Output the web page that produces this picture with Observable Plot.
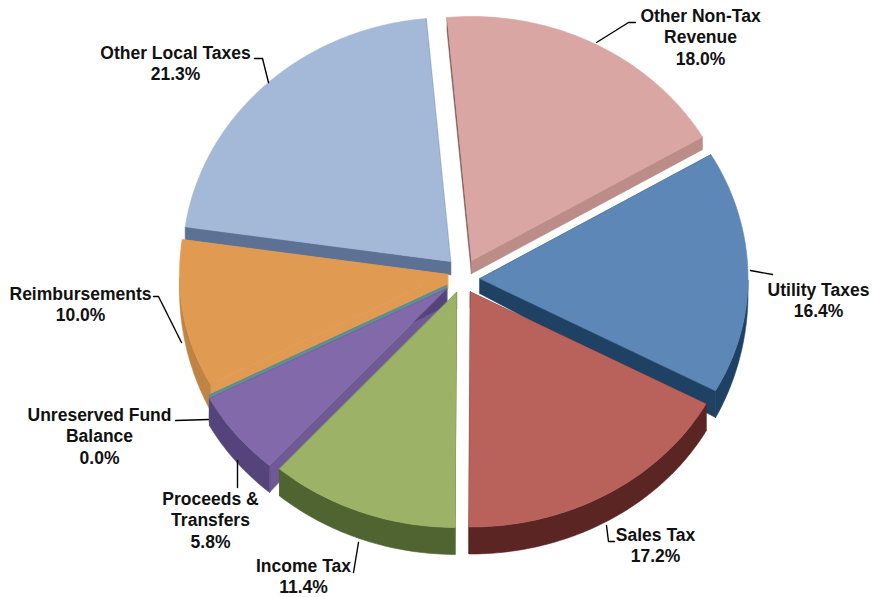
<!DOCTYPE html>
<html>
<head>
<meta charset="utf-8">
<script src="https://cdn.jsdelivr.net/npm/d3@7"></script>
<script src="https://cdn.jsdelivr.net/npm/@observablehq/plot@0.6"></script>
<style>
  html, body { margin: 0; padding: 0; background: #fff; }
  svg { display: block; }
</style>
</head>
<body>
<div id="chart"></div>
<script>
// Revenue shares, clockwise from the right-hand side of the pie
const categories = ["Utility Taxes", "Sales Tax", "Income Tax", "Proceeds & Transfers", "Unreserved Fund Balance", "Reimbursements", "Other Local Taxes", "Other Non-Tax Revenue"];
const shares = [16.4, 17.2, 11.4, 5.8, 0.0, 10.0, 21.3, 18.0];
const labelLines = [["Utility Taxes"], ["Sales Tax"], ["Income Tax"], ["Proceeds &", "Transfers"], ["Unreserved Fund", "Balance"], ["Reimbursements"], ["Other Local Taxes"], ["Other Non-Tax", "Revenue"]];

// How far each slice is pulled away from the pie centre
const pullX = [18.5, 9, -5, -15, -15, -14, -11, 10];
const pullY = [0, 13.5, 14, 10.5, 7, -4, -17, -18];

// Slice colours: top face, outer wall, and the two cut walls (leading and trailing edge)
const topColors = ["#5c87b7", "#b9625c", "#9cb267", "#8269a9", "#5f8f90", "#e09a52", "#a4b8d8", "#d9a6a3"];
const wallColors = ["#1f4163", "#5a2522", "#4f6431", "#55437c", "#5f8f90", "#bf8443", "#5d7195", "#bc8c88"];
const leadCutColors = ["#1f4163", "#5a2522", "#4f6431", "#6f5a96", "#5f8f90", "#e09a52", "#5d7195", "#7d5754"];
const trailCutColors = ["#1f4163", "#5a2522", "#4f6431", "#55437c", "#5f8f90", "#e09a52", "#5d7195", "#bc8c88"];

// Where each label sits relative to the pie centre, with its leader line
const labelPos = [[357, 21], [194, 266], [-158, 297], [-251, 241], [-362, 157], [-381, 25], [-286, -216], [239, -242]];
const leaders = [
  [[289, -8], [311, -4]],
  [[145, 247], [147, 263], [153, 263]],
  [[-103, 264], [-108, 294]],
  [[-224, 182], [-224, 209]],
  [[-253, 141], [-286, 142]],
  [[-280, 64], [-303, 18], [-308, 18]],
  [[-193, -196], [-199, -220], [-207, -220]],
  [[135, -236], [167, -256], [174, -256]]
];

const width = 872, height = 597;
const cx = 461, cy = 278;
const rx = 268, ryBack = 244, ryFront = 235;
const deg = Math.PI / 180;
const start = 59.5 * deg;

const arcs = d3.pie().sort(null).startAngle(start).endAngle(start + 2 * Math.PI)(shares);
const rim = (a) => [rx * Math.sin(a), -(Math.cos(a) > 0 ? ryBack : ryFront) * Math.cos(a)];

// Walls are shallower towards the back of the pie
const wallDepth = (y) => 13 + 14 * Math.max(0, Math.min(1, (y + 20) / 130));
const drop = ([x, y]) => [x, y + wallDepth(y)];

const faces = [];
const addFace = (key, color, points) => {
  for (const [x, y] of points) faces.push({key, x, y, color});
};

// Painted back to front so nearer slices cover the walls of farther ones
const paintOrder = [7, 6, 0, 5, 4, 3, 1, 2];
for (const i of paintOrder) {
  const arc = arcs[i];
  const apex = [pullX[i], pullY[i]];
  const steps = Math.max(1, Math.ceil((arc.endAngle - arc.startAngle) / deg));
  const angles = d3.range(steps + 1).map((t) => arc.startAngle + (arc.endAngle - arc.startAngle) * t / steps);
  const edge = angles.map((a) => {
    const [px, py] = rim(a);
    return [apex[0] + px, apex[1] + py];
  });
  const first = edge[0], last = edge[edge.length - 1];
  addFace(`${i}-lead`, leadCutColors[i], [apex, first, drop(first), drop(apex)]);
  addFace(`${i}-trail`, trailCutColors[i], [apex, last, drop(last), drop(apex)]);
  // Only the part of the rim facing the viewer shows an outer wall
  const front = edge.filter((_, j) => Math.cos(angles[j]) < 0);
  if (front.length > 1) addFace(`${i}-outer`, wallColors[i], [...front, ...front.map(drop).reverse()]);
  addFace(`${i}-top`, topColors[i], [apex, ...edge]);
}

const labels = categories.map((c, i) => ({
  x: labelPos[i][0],
  y: labelPos[i][1],
  text: [...labelLines[i], shares[i].toFixed(1) + "%"].join("\n")
}));
const leaderPoints = leaders.flatMap((pts, i) => pts.map(([x, y]) => ({i, x, y})));

const chart = Plot.plot({
  width, height, margin: 0,
  style: {background: "#fff", fontFamily: "'Liberation Sans', Arial, sans-serif"},
  x: {domain: [-cx, width - cx], range: [0, width], axis: null},
  y: {domain: [-cy, height - cy], range: [0, height], axis: null},
  color: {type: "identity"},
  marks: [
    Plot.line(faces, {x: "x", y: "y", z: "key", fill: "color", stroke: "color", strokeWidth: 0.6, curve: "linear-closed"}),
    Plot.line(leaderPoints, {x: "x", y: "y", z: "i", stroke: "#000", strokeWidth: 1.4}),
    Plot.text(labels, {x: "x", y: "y", text: "text", fontSize: 17.5, fontWeight: "bold", lineHeight: 1.23, fill: "#111"})
  ]
});
document.getElementById("chart").appendChild(chart);
</script>
</body>
</html>
